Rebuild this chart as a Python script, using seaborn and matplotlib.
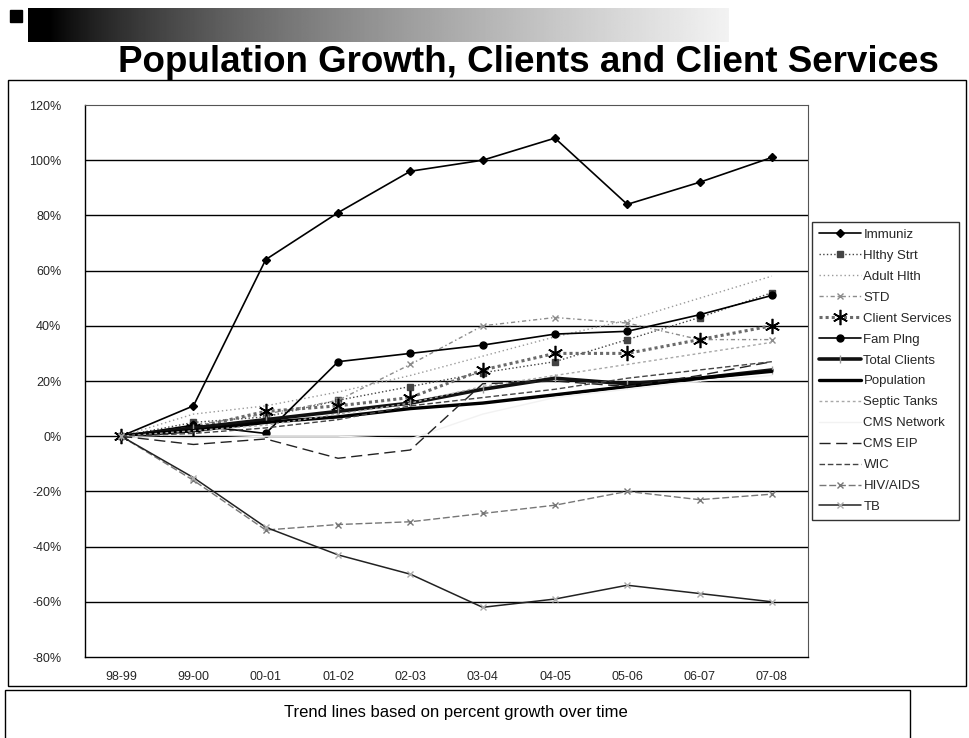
import numpy as np
import pandas as pd
import matplotlib
matplotlib.use("Agg")
import matplotlib.pyplot as plt
from matplotlib.patches import Rectangle
import seaborn as sns

# Fiscal years
years = ["98-99", "99-00", "00-01", "01-02", "02-03", "03-04", "04-05", "05-06", "06-07", "07-08"]

# Percent growth since 98-99, per program
immuniz = [0, 11, 64, 81, 96, 100, 108, 84, 92, 101]
hlthy_strt = [0, 5, 7, 13, 18, 23, 27, 35, 43, 52]
adult_hlth = [0, 8, 11, 16, 22, 29, 36, 42, 50, 58]
std = [0, 4, 8, 13, 26, 40, 43, 41, 35, 35]
client_services = [0, 3, 9, 11, 14, 24, 30, 30, 35, 40]
fam_plng = [0, 4, 1, 27, 30, 33, 37, 38, 44, 51]
total_clients = [0, 3, 6, 9, 12, 17, 21, 19, 21, 24]
population = [0, 2, 5, 7, 10, 12, 15, 18, 21, 23.5]
septic_tanks = [0, 2, 4, 8, 12, 18, 22, 26, 30, 34]
cms_network = [0, -1, 0, 0, -1, 8, 14, 17, 20, 22]
cms_eip = [0, -3, -1, -8, -5, 19, 20, 18, 22, 27]
wic = [0, 1, 3, 6, 11, 14, 17, 21, 24, 27]
hiv_aids = [0, -16, -34, -32, -31, -28, -25, -20, -23, -21]
tb = [0, -15, -33, -43, -50, -62, -59, -54, -57, -60]

y_ticks = [120, 100, 80, 60, 40, 20, 0, -20, -40, -60, -80]

series = [
    ("Immuniz", immuniz, dict(color="black", lw=1.2, ls="-", marker="D", ms=4.5)),
    ("Hlthy Strt", hlthy_strt, dict(color="#444444", lw=1.0, ls=":", marker="s", ms=4.5)),
    ("Adult Hlth", adult_hlth, dict(color="#9a9a9a", lw=1.0, ls=(0, (1, 2)), marker=None, ms=0)),
    ("STD", std, dict(color="#8c8c8c", lw=1.0, ls=(0, (3, 2, 1, 2)), marker="x", ms=4)),
    ("Client Services", client_services, dict(color="#6a6a6a", lw=2.2, ls=(0, (1, 1)), marker=(6, 2, 0), ms=11, mec="black", mew=1.2)),
    ("Fam Plng", fam_plng, dict(color="black", lw=1.2, ls="-", marker="o", ms=5)),
    ("Total Clients", total_clients, dict(color="#111111", lw=2.6, ls="-", marker="|", ms=6, mec="#999999")),
    ("Population", population, dict(color="black", lw=2.4, ls="-", marker=None, ms=0)),
    ("Septic Tanks", septic_tanks, dict(color="#a8a8a8", lw=1.0, ls=(0, (2, 2)), marker=None, ms=0)),
    ("CMS Network", cms_network, dict(color="#f2f2f2", lw=1.0, ls="-", marker=None, ms=0)),
    ("CMS EIP", cms_eip, dict(color="#222222", lw=1.0, ls=(0, (8, 4)), marker=None, ms=0)),
    ("WIC", wic, dict(color="#444444", lw=1.0, ls=(0, (4, 2)), marker=None, ms=0)),
    ("HIV/AIDS", hiv_aids, dict(color="#777777", lw=1.0, ls=(0, (5, 2)), marker="x", ms=4)),
    ("TB", tb, dict(color="#222222", lw=1.1, ls="-", marker="x", ms=4, mec="#aaaaaa")),
]

sns.set_theme(style="white")
plt.rcParams["font.family"] = ["Liberation Sans", "DejaVu Sans"]

fig = plt.figure(figsize=(9.69, 7.38), dpi=100)
W, H = 969, 738


def fx(px):
    return px / W


def fy(py):
    return 1 - py / H


# Banner gradient at the top left
banner = fig.add_axes([fx(28), fy(42), fx(700), 34 / H])
grad = np.linspace(0, 1, 400) ** 0.6
grad = np.clip((grad - 0.12) / 0.88, 0, 1) * 0.95
banner.imshow(np.tile(grad, (10, 1)), cmap="gray", vmin=0, vmax=1, aspect="auto")
banner.axis("off")
fig.patches.append(Rectangle((fx(10), fy(22)), fx(12), 12 / H, transform=fig.transFigure,
                             color="black", zorder=3))

# Chart frame and title
fig.patches.append(Rectangle((fx(8), fy(686)), fx(958), 606 / H, transform=fig.transFigure,
                             fill=False, edgecolor="black", lw=1.0, zorder=1))
fig.text(fx(528), fy(63), "Population Growth, Clients and Client Services",
         ha="center", va="center", fontsize=26.5, fontweight="bold", color="black", zorder=5)

# Footnote box
fig.patches.append(Rectangle((fx(5), fy(745)), fx(905), 55 / H, transform=fig.transFigure,
                             fill=False, edgecolor="black", lw=1.0))
fig.text(fx(456), fy(713), "Trend lines based on percent growth over time",
         ha="center", va="center", fontsize=12, color="black")

ax = fig.add_axes([fx(85), fy(657), fx(808 - 85), (657 - 105) / H])

for name, vals, st in series:
    df = pd.DataFrame({"year": years, "growth": vals})
    kw = dict(color=st["color"], lw=st["lw"], ls=st["ls"])
    if st["marker"] is not None:
        kw.update(marker=st["marker"], markersize=st["ms"],
                  markeredgecolor=st.get("mec", st["color"]),
                  markerfacecolor=st.get("mec", st["color"]),
                  markeredgewidth=st.get("mew", 1.0))
    sns.lineplot(data=df, x="year", y="growth", ax=ax, label=name, sort=False, **kw)

ax.set_xlim(-0.5, len(years) - 0.5)
ax.set_ylim(-80, 120)
ax.set_yticks(y_ticks)
ax.set_yticklabels([f"{v}%" for v in y_ticks], fontsize=9)
ax.set_xticks(range(len(years)))
ax.set_xticklabels(years, fontsize=9)
ax.set_xticks(np.arange(-0.5, len(years)), minor=True)
ax.tick_params(axis="x", which="major", length=0, pad=10)
ax.tick_params(axis="x", which="minor", length=5, color="black", width=1, direction="out")
ax.tick_params(axis="y", length=5, color="black", width=1, direction="out", pad=12)
ax.set_xlabel("")
ax.set_ylabel("")

for v in y_ticks[1:-1]:
    ax.axhline(v, color="black", lw=1.0, zorder=0)

for side in ["top", "right"]:
    ax.spines[side].set_linestyle((0, (1, 1)))
    ax.spines[side].set_color("#555555")
    ax.spines[side].set_linewidth(0.8)
for side in ["left", "bottom"]:
    ax.spines[side].set_color("black")
    ax.spines[side].set_linewidth(1.0)

leg = ax.legend(loc="upper left", bbox_to_anchor=(fx(812), fy(222)), bbox_transform=fig.transFigure,
                frameon=True, fancybox=False, edgecolor="black", fontsize=9.5,
                handlelength=3.2, handletextpad=0.2, labelspacing=0.66, borderpad=0.5,
                borderaxespad=0)
leg.get_frame().set_linewidth(1.0)

fig.savefig("out.png", dpi=100, facecolor="white")
